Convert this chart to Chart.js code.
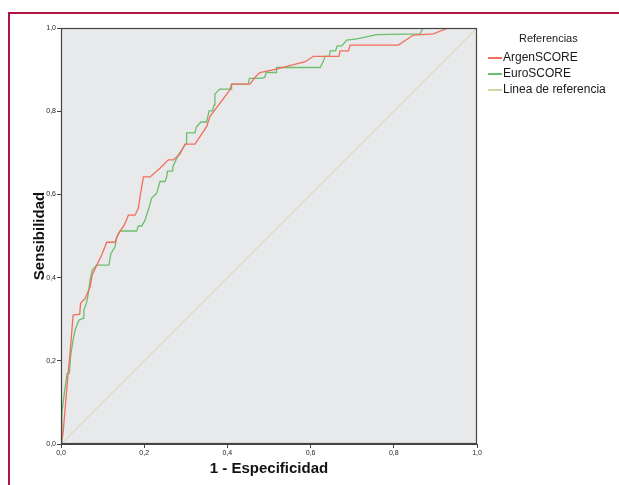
<!DOCTYPE html>
<html><head><meta charset="utf-8">
<script src="https://cdn.jsdelivr.net/npm/chart.js@4/dist/chart.umd.min.js"></script>
<style>
html,body{margin:0;padding:0;background:#fff;width:619px;height:485px;overflow:hidden;font-family:"Liberation Sans",Arial,sans-serif;}
#frame{position:absolute;left:8px;top:12px;width:611px;height:473px;border-top:2px solid #b3143f;border-left:2px solid #b3143f;box-sizing:border-box;}
#c{position:absolute;left:0;top:0;}
#legend{position:absolute;left:486px;top:32px;color:#1a1a1a;}
#legend .title{position:absolute;left:33px;top:0;font-size:11px;white-space:nowrap;}
#legend .item{position:absolute;left:0;white-space:nowrap;font-size:12px;}
#legend .sw{position:absolute;left:2px;top:7px;width:14px;height:1.5px;}
#legend .lb{position:absolute;left:17px;top:0;}
</style></head>
<body>
<div id="frame"></div>
<canvas id="c" width="619" height="485"></canvas>
<div id="legend"></div>
<script>
// ---- data ----
const seriesNames = ['ArgenSCORE', 'EuroSCORE', 'Linea de referencia'];
const argenX = [0,0.005,0.009,0.013,0.017,0.021,0.025,0.029,0.045,0.047,0.058,0.070,0.075,0.086,0.098,0.110,0.130,0.138,0.152,0.162,0.178,0.186,0.190,0.198,0.214,0.238,0.258,0.270,0.286,0.298,0.322,0.334,0.350,0.358,0.406,0.410,0.454,0.466,0.478,0.518,0.587,0.607,0.668,0.671,0.691,0.695,0.811,0.847,0.895,0.931,1];
const argenY = [0,0.026,0.074,0.120,0.170,0.210,0.258,0.310,0.312,0.338,0.350,0.378,0.406,0.430,0.455,0.485,0.485,0.506,0.526,0.550,0.550,0.567,0.594,0.642,0.642,0.663,0.683,0.683,0.697,0.721,0.721,0.739,0.763,0.787,0.851,0.865,0.865,0.881,0.893,0.901,0.919,0.932,0.932,0.945,0.945,0.959,0.959,0.983,0.986,1,1];
const euroX = [0,0.002,0.009,0.015,0.020,0.023,0.029,0.034,0.043,0.053,0.055,0.061,0.065,0.070,0.075,0.086,0.115,0.120,0.130,0.134,0.142,0.182,0.186,0.194,0.202,0.210,0.218,0.230,0.238,0.250,0.254,0.256,0.268,0.270,0.282,0.302,0.302,0.322,0.325,0.336,0.350,0.356,0.364,0.368,0.370,0.381,0.409,0.410,0.450,0.453,0.478,0.490,0.493,0.518,0.518,0.623,0.631,0.635,0.645,0.647,0.660,0.664,0.675,0.687,0.711,0.759,0.863,0.871,1];
const euroY = [0,0.074,0.130,0.170,0.170,0.210,0.250,0.274,0.298,0.302,0.322,0.338,0.358,0.394,0.418,0.430,0.430,0.458,0.474,0.498,0.512,0.512,0.524,0.524,0.538,0.563,0.591,0.603,0.631,0.631,0.642,0.656,0.656,0.669,0.695,0.724,0.748,0.748,0.761,0.774,0.774,0.801,0.801,0.815,0.841,0.853,0.853,0.865,0.865,0.879,0.879,0.881,0.893,0.893,0.905,0.905,0.921,0.932,0.932,0.945,0.945,0.957,0.957,0.971,0.974,0.984,0.986,1,1];
const refX = [0, 1];
const refY = [0, 1];
const tickLabels = ['0,0','0,2','0,4','0,6','0,8','1,0'];
const colors = ['#f26e5c', '#6cbf6c', '#d8d3a2'];

const toPts = (xs, ys) => xs.map((x, i) => ({x: x, y: ys[i]}));

const areaPlugin = {
  id: 'area',
  beforeDatasetsDraw(chart) {
    const a = chart.chartArea, ctx = chart.ctx;
    ctx.save(); ctx.fillStyle = '#e8e9eb';
    ctx.fillRect(a.left, a.top, a.right - a.left, a.bottom - a.top);
    ctx.restore();
  },
  afterDatasetsDraw(chart) {
    const a = chart.chartArea, ctx = chart.ctx;
    ctx.save(); ctx.strokeStyle = '#444'; ctx.lineWidth = 1.2;
    ctx.strokeRect(a.left + 0.5, a.top + 0.5, a.right - a.left - 1, a.bottom - a.top - 1);
    ctx.restore();
  }
};

const font = "'Liberation Sans', Arial, sans-serif";
new Chart(document.getElementById('c'), {
  type: 'scatter',
  data: {
    datasets: [
      {label: seriesNames[2], data: toPts(refX, refY), showLine: true, borderColor: colors[2], borderWidth: 1, pointRadius: 0, order: 3},
      {label: seriesNames[1], data: toPts(euroX, euroY), showLine: true, borderColor: colors[1], borderWidth: 1.3, pointRadius: 0, order: 2},
      {label: seriesNames[0], data: toPts(argenX, argenY), showLine: true, borderColor: colors[0], borderWidth: 1.3, pointRadius: 0, order: 1}
    ]
  },
  options: {
    responsive: false, animation: false, devicePixelRatio: 1,
    layout: {padding: {left: 0, top: 28, right: 142, bottom: 0}},
    plugins: {legend: {display: false}, tooltip: {enabled: false}},
    scales: {
      x: {
        type: 'linear', min: 0, max: 1,
        afterFit: s => { s.height = 41; },
        afterBuildTicks: s => { s.ticks = tickLabels.map((t, i) => ({value: i * 0.2})); },
        ticks: {callback: (v, i) => tickLabels[i], font: {family: font, size: 7}, color: '#222', padding: 1, maxRotation: 0, autoSkip: false},
        grid: {drawOnChartArea: false, drawTicks: true, tickLength: 4, color: '#444'},
        border: {display: true, color: '#444'},
        title: {display: true, text: '1 - Especificidad', font: {family: font, size: 15, weight: 'bold'}, color: '#111', padding: {top: 0, bottom: 7}}
      },
      y: {
        type: 'linear', min: 0, max: 1,
        afterFit: s => { s.width = 61; },
        afterBuildTicks: s => { s.ticks = tickLabels.map((t, i) => ({value: i * 0.2})); },
        ticks: {callback: (v, i) => tickLabels[i], font: {family: font, size: 7}, color: '#222', padding: 1, autoSkip: false},
        grid: {drawOnChartArea: false, drawTicks: true, tickLength: 4, color: '#444'},
        border: {display: true, color: '#444'},
        title: {display: true, text: 'Sensibilidad', font: {family: font, size: 15, weight: 'bold'}, color: '#111', padding: {top: 31, bottom: 0}}
      }
    }
  },
  plugins: [areaPlugin]
});

// legend (HTML text)
const lg = document.getElementById('legend');
const t = document.createElement('div'); t.className = 'title'; t.textContent = 'Referencias'; lg.appendChild(t);
[0, 1, 2].forEach((k, i) => {
  const it = document.createElement('div'); it.className = 'item'; it.style.top = (18 + i * 16) + 'px';
  const sw = document.createElement('div'); sw.className = 'sw'; sw.style.background = colors[k];
  const lb = document.createElement('div'); lb.className = 'lb'; lb.textContent = seriesNames[k];
  it.appendChild(sw); it.appendChild(lb); lg.appendChild(it);
});
</script>
</body></html>
